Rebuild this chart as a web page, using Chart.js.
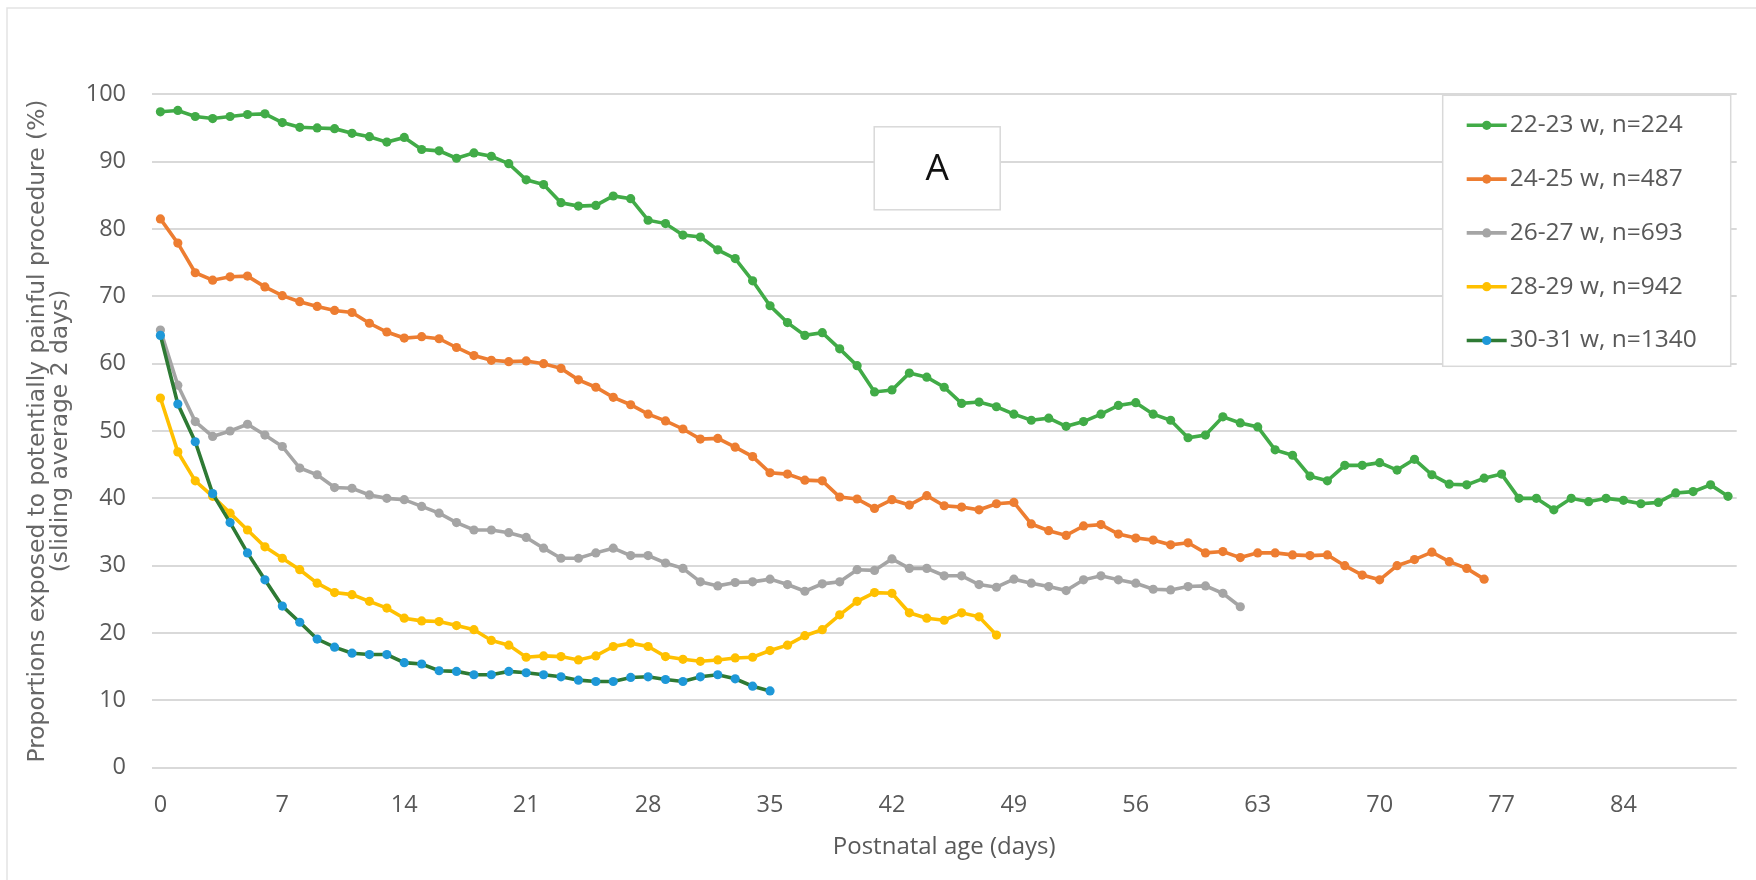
<!DOCTYPE html>
<html>
<head>
<meta charset="utf-8">
<script src="https://cdn.jsdelivr.net/npm/chart.js@4"></script>
<style>
  html, body { margin: 0; padding: 0; background: #ffffff; }
  #wrap { position: absolute; left: 0; top: 0; width: 1756px; height: 880px; }
</style>
</head>
<body>
<div id="wrap"><canvas id="c" width="1756" height="880"></canvas></div>
<script>
// ---- categories (postnatal age, days) ----
const days = [0,1,2,3,4,5,6,7,8,9,10,11,12,13,14,15,16,17,18,19,20,21,22,23,24,25,26,27,28,29,30,
  31,32,33,34,35,36,37,38,39,40,41,42,43,44,45,46,47,48,49,50,51,52,53,54,55,56,57,58,59,60,
  61,62,63,64,65,66,67,68,69,70,71,72,73,74,75,76,77,78,79,80,81,82,83,84,85,86,87,88,89,90];
const xTickLabels = [0,7,14,21,28,35,42,49,56,63,70,77,84];

// ---- series values (%) ----
const w22_23 = [97.4,97.6,96.7,96.4,96.7,97.0,97.1,95.8,95.1,95.0,94.9,94.2,93.7,92.9,93.6,91.8,91.6,90.5,91.3,90.8,
  89.7,87.3,86.6,83.9,83.4,83.5,84.9,84.5,81.3,80.8,79.1,78.8,76.9,75.6,72.3,68.6,66.1,64.2,64.6,62.2,
  59.7,55.8,56.1,58.6,58.0,56.5,54.1,54.3,53.6,52.5,51.6,51.9,50.7,51.4,52.5,53.8,54.2,52.5,51.6,49.0,
  49.4,52.1,51.2,50.6,47.2,46.4,43.3,42.6,44.9,44.9,45.3,44.2,45.8,43.5,42.1,42.0,43.0,43.6,40.0,40.0,
  38.3,40.0,39.5,40.0,39.7,39.2,39.4,40.8,41.0,42.0,40.3];
const w24_25 = [81.5,77.9,73.5,72.4,72.9,73.0,71.4,70.1,69.2,68.5,67.9,67.6,66.0,64.7,63.8,64.0,63.7,62.4,61.2,60.5,
  60.3,60.4,60.0,59.3,57.6,56.5,55.0,53.9,52.5,51.5,50.3,48.8,48.9,47.6,46.2,43.8,43.6,42.7,42.6,40.2,
  39.9,38.5,39.8,39.0,40.4,38.9,38.7,38.3,39.2,39.4,36.2,35.2,34.5,35.9,36.1,34.7,34.1,33.8,33.1,33.4,
  31.9,32.1,31.2,31.9,31.9,31.6,31.5,31.6,30.0,28.6,27.9,30.0,30.9,32.0,30.6,29.6,28.0];
const w26_27 = [65.0,56.8,51.4,49.2,50.0,51.0,49.4,47.7,44.5,43.5,41.6,41.5,40.5,40.0,39.8,38.8,37.8,36.4,35.3,35.3,
  34.9,34.2,32.6,31.1,31.1,31.9,32.6,31.5,31.5,30.4,29.6,27.6,27.0,27.5,27.6,28.0,27.2,26.2,27.3,27.6,
  29.4,29.3,31.0,29.6,29.6,28.5,28.5,27.2,26.8,28.0,27.4,26.9,26.3,27.9,28.5,27.9,27.4,26.5,26.4,26.9,
  27.0,25.9,23.9];
const w28_29 = [54.9,46.9,42.6,40.3,37.8,35.3,32.8,31.1,29.4,27.4,26.0,25.7,24.7,23.7,22.2,21.8,21.7,21.1,20.5,18.9,
  18.2,16.4,16.6,16.5,16.0,16.6,18.0,18.5,18.0,16.5,16.1,15.8,16.0,16.3,16.4,17.4,18.2,19.6,20.5,22.7,
  24.7,26.0,25.9,23.0,22.2,21.9,23.0,22.4,19.7];
const w30_31 = [64.2,54.0,48.4,40.7,36.4,31.9,27.9,24.0,21.6,19.1,17.9,17.0,16.8,16.8,15.6,15.4,14.4,14.3,13.8,13.8,
  14.3,14.1,13.8,13.5,13.0,12.8,12.8,13.4,13.5,13.1,12.8,13.5,13.8,13.2,12.1,11.4];

const seriesNames = ['22-23 w, n=224','24-25 w, n=487','26-27 w, n=693','28-29 w, n=942','30-31 w, n=1340'];
const seriesData = [w22_23, w24_25, w26_27, w28_29, w30_31];
const lineColors = ['#41ab47','#ed7d31','#a5a5a5','#ffc000','#2e7a34'];
const markerColors = ['#41ab47','#ed7d31','#a5a5a5','#ffc000','#1e98d8'];
const yTitle = ['Proportions exposed to potentially painful procedure (%)', '(sliding average 2 days)'];
const xTitle = 'Postnatal age (days)';
const panelLabel = 'A';

const TEXT = '#595959';
const GRID = '#d9d9d9';

const datasets = seriesData.map((d, i) => ({
  label: seriesNames[i],
  data: d,
  borderColor: lineColors[i],
  backgroundColor: markerColors[i],
  pointBackgroundColor: markerColors[i],
  pointBorderColor: markerColors[i],
  pointBorderWidth: 0,
  pointRadius: 4.6,
  borderWidth: 3.6,
  tension: 0,
  fill: false,
  order: 5 - i
}));

const framePlugin = {
  id: 'frame',
  beforeDraw(chart) {
    const ctx = chart.ctx;
    ctx.save();
    ctx.fillStyle = '#ffffff';
    ctx.fillRect(0, 0, chart.width, chart.height);
    ctx.strokeStyle = '#e3e3e3';
    ctx.lineWidth = 1.5;
    ctx.strokeRect(7, 8, chart.width + 20, chart.height + 20);
    ctx.restore();
  }
};

const overlayPlugin = {
  id: 'overlay',
  afterDatasetsDraw(chart) {
    const ctx = chart.ctx;
    const a = chart.chartArea;
    ctx.save();
    // panel label box "A"
    const bx = a.left + 722.5, by = a.top + 32.5, bw = 126, bh = 83;
    ctx.fillStyle = '#ffffff';
    ctx.fillRect(bx, by, bw, bh);
    ctx.strokeStyle = GRID;
    ctx.lineWidth = 1.5;
    ctx.strokeRect(bx, by, bw, bh);
    ctx.fillStyle = '#111111';
    ctx.font = '37px "Open Sans"';
    ctx.textAlign = 'center';
    ctx.textBaseline = 'middle';
    ctx.fillText(panelLabel, bx + bw / 2, by + bh / 2 + 1);

    // legend box
    const lx = a.right - 294, ly = a.top + 1, lw = 288, lh = 271;
    ctx.fillStyle = '#ffffff';
    ctx.fillRect(lx, ly, lw, lh);
    ctx.strokeStyle = GRID;
    ctx.lineWidth = 1.5;
    ctx.strokeRect(lx, ly, lw, lh);
    ctx.font = '24.5px "Open Sans"';
    ctx.textAlign = 'left';
    ctx.textBaseline = 'middle';
    for (let i = 0; i < seriesNames.length; i++) {
      const cy = ly + 30 + i * 53.8;
      const x0 = lx + 24, x1 = lx + 64;
      ctx.strokeStyle = lineColors[i];
      ctx.lineWidth = 3.6;
      ctx.beginPath();
      ctx.moveTo(x0, cy);
      ctx.lineTo(x1, cy);
      ctx.stroke();
      ctx.fillStyle = markerColors[i];
      ctx.beginPath();
      ctx.arc((x0 + x1) / 2, cy, 4.6, 0, Math.PI * 2);
      ctx.fill();
      ctx.fillStyle = TEXT;
      ctx.fillText(seriesNames[i], x1 + 3, cy);
    }
    ctx.restore();
  }
};

new Chart(document.getElementById('c'), {
  type: 'line',
  data: { labels: days, datasets },
  plugins: [framePlugin, overlayPlugin],
  options: {
    responsive: false,
    animation: false,
    devicePixelRatio: 1,
    layout: { padding: { left: 0, top: 94.3, right: 19.3, bottom: 0 } },
    plugins: { legend: { display: false }, tooltip: { enabled: false } },
    scales: {
      x: {
        type: 'category',
        offset: true,
        grid: { display: false, drawTicks: false },
        border: { display: false },
        ticks: {
          autoSkip: false,
          maxRotation: 0,
          minRotation: 0,
          padding: 24,
          color: TEXT,
          font: { family: 'Open Sans', size: 23.5 },
          callback: function (value, index) {
            const d = days[index];
            return xTickLabels.includes(d) ? String(d) : '';
          }
        },
        title: {
          display: true,
          text: xTitle,
          color: TEXT,
          font: { family: 'Open Sans', size: 24 },
          padding: { top: 0, bottom: 18 }
        },
        afterFit(scale) { scale.height = 112.3; }
      },
      y: {
        min: 0,
        max: 100,
        grid: { color: GRID, lineWidth: 2, drawTicks: false },
        border: { display: false },
        ticks: {
          stepSize: 10,
          padding: 25.7,
          color: TEXT,
          font: { family: 'Open Sans', size: 23.5 }
        },
        title: {
          display: true,
          text: yTitle,
          color: '#666666',
          font: { family: 'DejaVu Sans', size: 23.4, lineHeight: 1.0 },
          padding: { top: 26, bottom: 0 }
        },
        afterFit(scale) { scale.width = 151.7; }
      }
    }
  }
});
</script>
</body>
</html>
